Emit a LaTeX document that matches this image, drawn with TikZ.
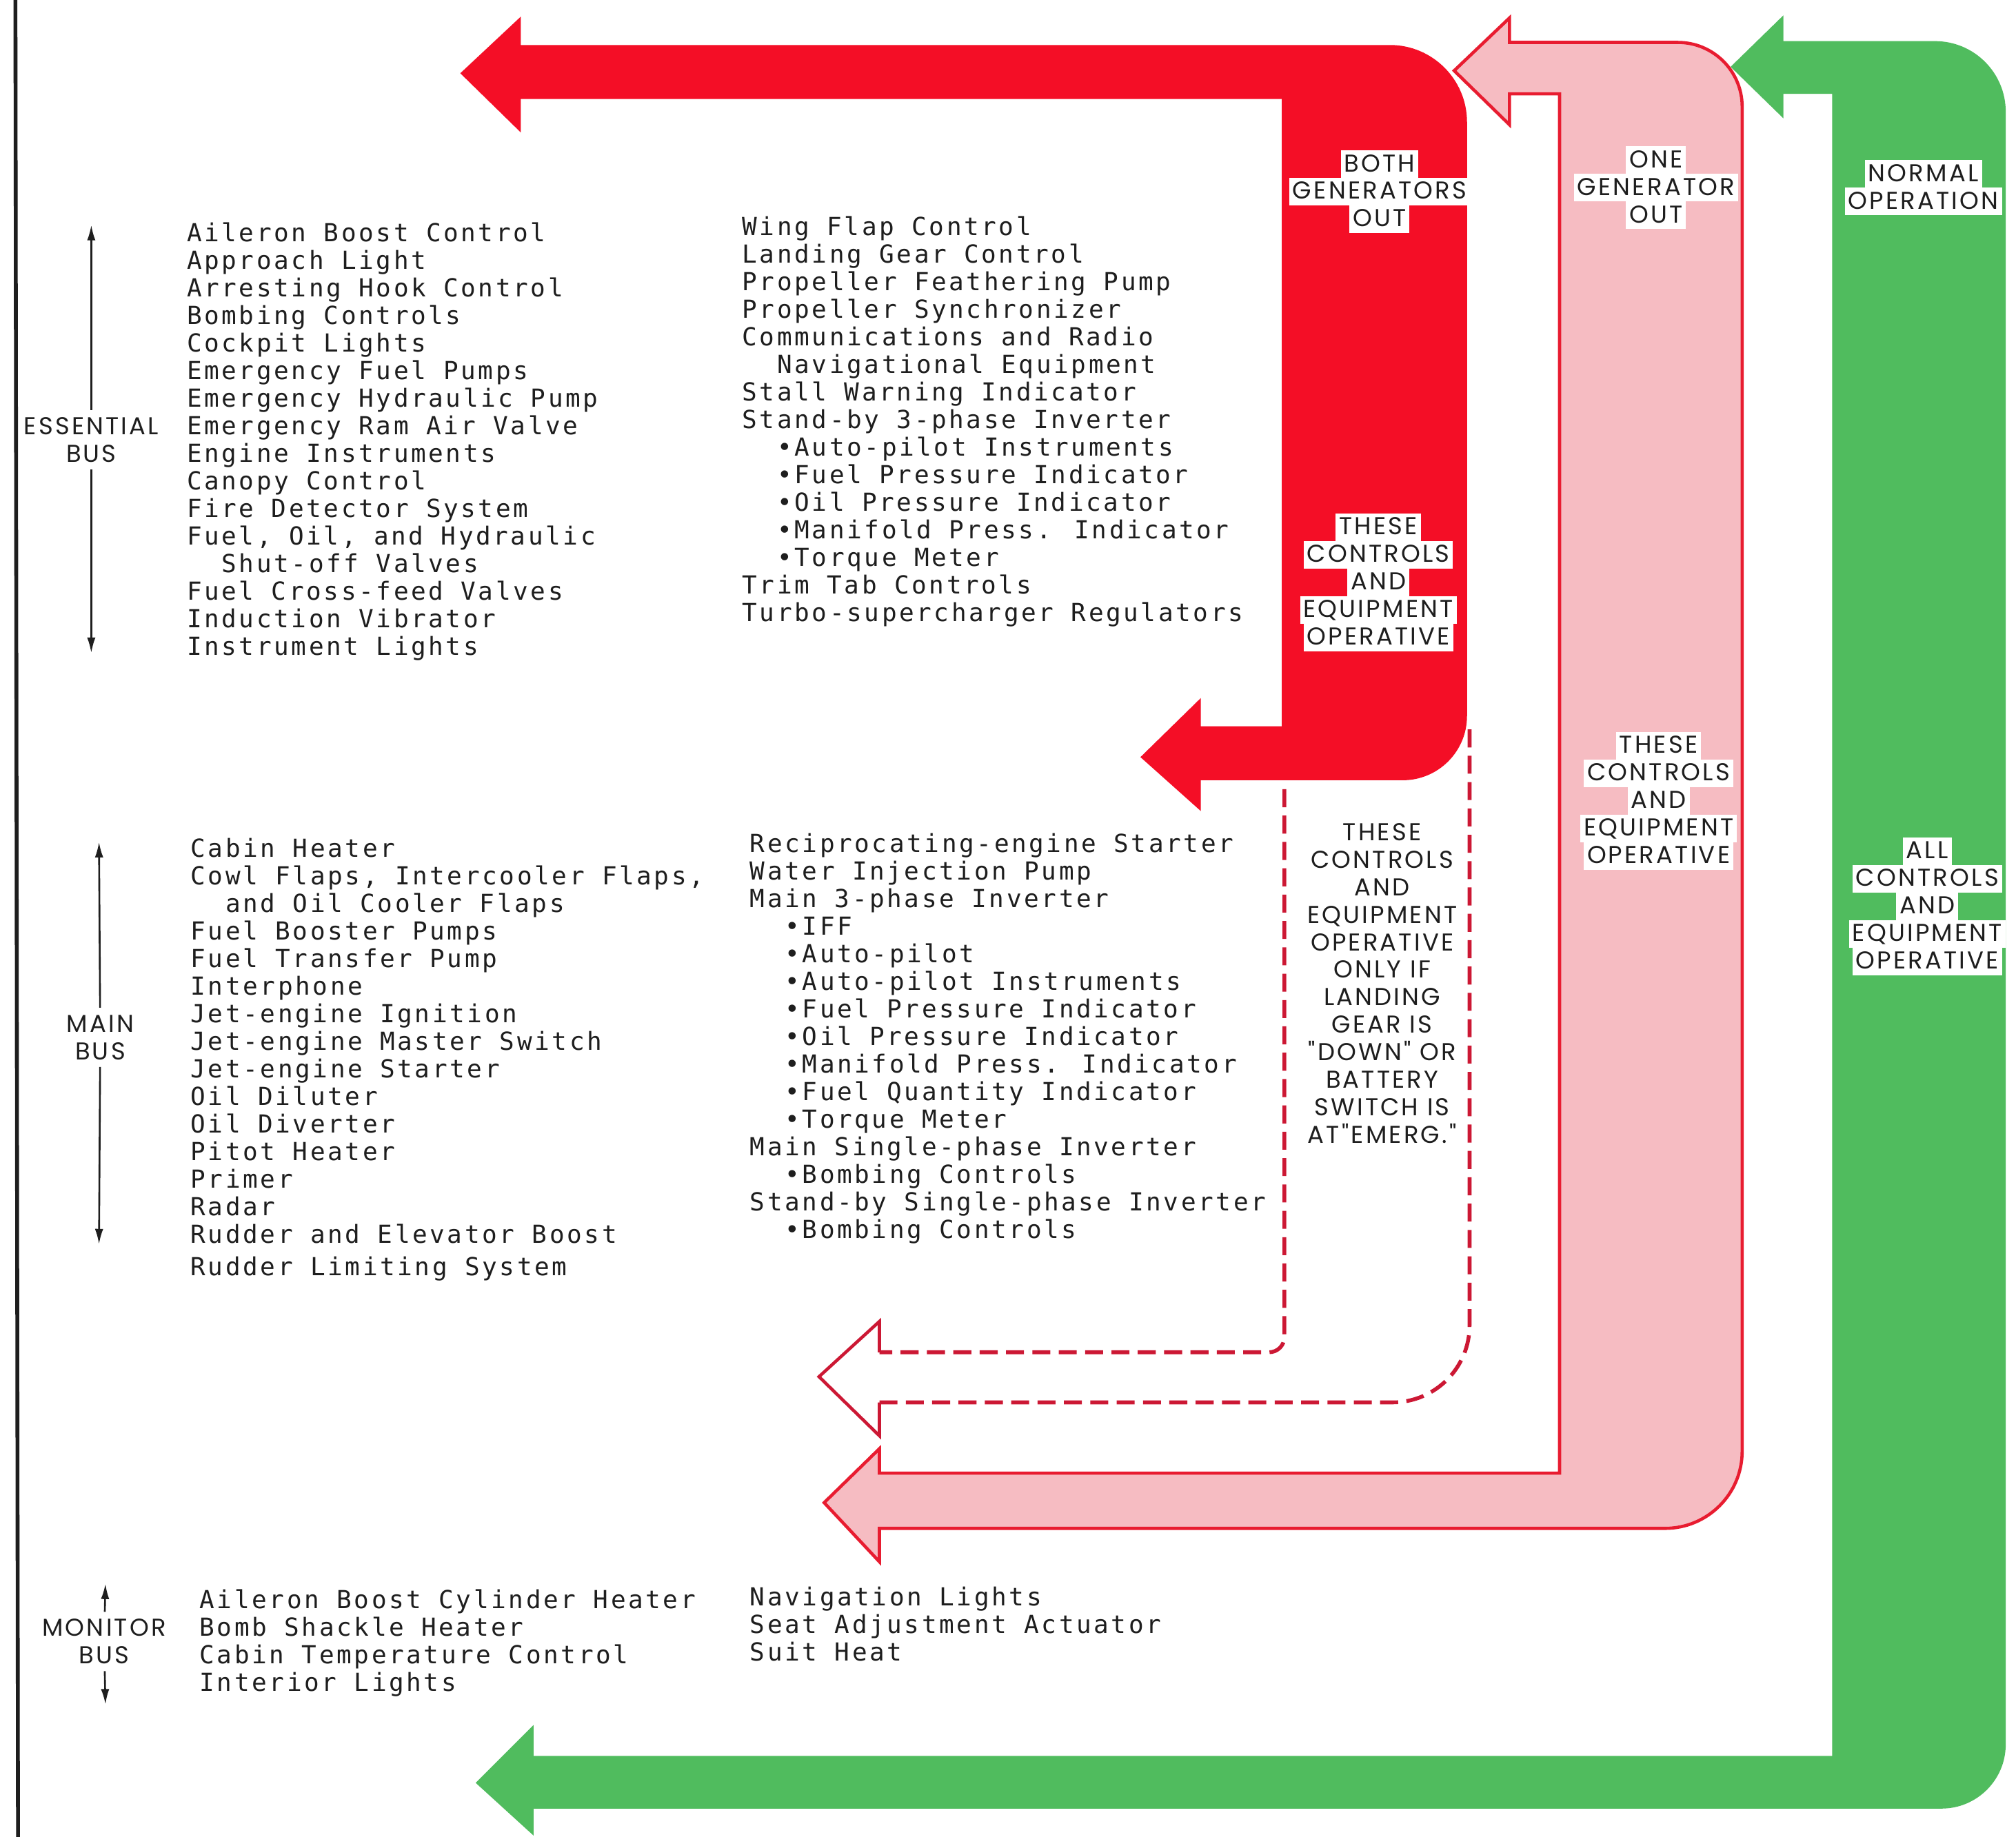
\documentclass[tikz,border=0pt]{standalone}
\usepackage{fontspec}
\usepackage{xcolor}
\usepackage{tikz}
\usetikzlibrary{arrows.meta}
\newfontfamily\itemfont[LetterSpace=10]{DejaVu Sans Mono}
\newfontfamily\lblfont[LetterSpace=9]{Poppins}
\definecolor{genred}{RGB}{244,14,38}
\definecolor{pinkfill}{RGB}{246,188,194}
\definecolor{pinkline}{RGB}{232,28,48}
\definecolor{opgreen}{RGB}{80,188,94}
\definecolor{dashred}{RGB}{204,24,52}
\definecolor{ink}{RGB}{30,30,30}
\setlength{\fboxsep}{0pt}
\newcommand\wl[1]{\colorbox{white}{\rule[-2.7pt]{0pt}{12.2pt}\hspace{1.5pt}#1\hspace{1.5pt}}}

\begin{document}
\begin{tikzpicture}[x=0.02cm, y=-0.02cm,
  item/.style={anchor=north west, inner sep=0pt, align=left, text=ink,
    font=\itemfont\fontsize{11}{12.2}\selectfont},
  lbl/.style={align=center, inner sep=0pt, text=ink,
    font=\lblfont\fontsize{10.8}{12.2}\selectfont},
  bus/.style={lbl, inner sep=3pt},
  busarr/.style={-{Latex[length=2.4mm, width=1.3mm]}, line width=0.8pt, ink},
  dashline/.style={dashred, line width=1.7pt, dash pattern=on 0.28cm off 0.13cm},
  headline/.style={dashred, line width=1.4pt}]
\path[fill=white, use as bounding box] (0,0) rectangle (1568,1429);
\draw[line width=0.06cm, ink] (12,0) -- (14,1429);

% both generators out
\fill[genred] (358,57) -- (405,13) -- (405,35) -- (1081,35) arc(-90:0:60) -- (1141,557) arc(0:90:50)
  -- (934,607) -- (934,631) -- (887,589) -- (934,543) -- (934,565) -- (997,565) -- (997,77)
  -- (405,77) -- (405,103) -- cycle;
\draw[dashline] (999,614) -- (999,1040) arc(0:90:12) -- (684,1052);
\draw[dashline] (684,1091) -- (1083,1091) arc(90:0:60) -- (1143,567);
\draw[headline] (684,1052) -- (684,1028) -- (637,1071) -- (684,1117) -- (684,1091);

% one generator out
\filldraw[fill=pinkfill, draw=pinkline, line width=1.4pt] (1131,55) -- (1174,14) -- (1174,33) -- (1305,33)
  arc(-90:0:50) -- (1355,1129) arc(0:90:60) -- (684,1189) -- (684,1215) -- (641,1169) -- (684,1127)
  -- (684,1146) -- (1213,1146) -- (1213,73) -- (1174,73) -- (1174,97) -- cycle;

% normal operation
\fill[opgreen] (1346,52) -- (1387,12) -- (1387,32) -- (1505,32) arc(-90:0:55) -- (1560,1357) arc(0:90:50)
  -- (415,1407) -- (415,1428) -- (370,1387) -- (415,1342) -- (415,1366) -- (1425,1366) -- (1425,73)
  -- (1387,73) -- (1387,92) -- cycle;

\node[lbl] (both) at (1073,149) {\wl{BOTH}\\\wl{GENERATORS}\\\wl{OUT}};
\node[lbl] (redops) at (1072,453) {\wl{THESE}\\\wl{CONTROLS}\\\wl{AND}\\\wl{EQUIPMENT}\\\wl{OPERATIVE}};
\node[lbl] (one) at (1288,146) {\wl{ONE}\\\wl{GENERATOR}\\\wl{OUT}};
\node[lbl] (pinkops) at (1290,623) {\wl{THESE}\\\wl{CONTROLS}\\\wl{AND}\\\wl{EQUIPMENT}\\\wl{OPERATIVE}};
\node[lbl] (normal) at (1496,146) {\wl{NORMAL}\\\wl{OPERATION}};
\node[lbl] (greenops) at (1499,705) {\wl{ALL}\\\wl{CONTROLS}\\\wl{AND}\\\wl{EQUIPMENT}\\\wl{OPERATIVE}};
\node[lbl] (onlyif) at (1075,765) {THESE\\CONTROLS\\AND\\EQUIPMENT\\OPERATIVE\\ONLY IF\\LANDING\\GEAR IS\\"DOWN" OR\\BATTERY\\SWITCH IS\\AT"EMERG."};

\node[bus] (essbus) at (71,342) {ESSENTIAL\\BUS};
\coordinate (esstop) at (71,175); \coordinate (essbot) at (71,508);
\draw[busarr] (essbus) -- (esstop); \draw[busarr] (essbus) -- (essbot);
\node[bus] (mainbus) at (78,807) {MAIN\\BUS};
\coordinate (maintop) at (77,655); \coordinate (mainbot) at (77,968);
\draw[busarr] (mainbus) -- (maintop); \draw[busarr] (mainbus) -- (mainbot);
\node[bus] (monbus) at (81,1277) {MONITOR\\BUS};
\coordinate (montop) at (82,1232); \coordinate (monbot) at (82,1326);
\draw[busarr] (monbus) -- (montop); \draw[busarr] (monbus) -- (monbot);

\node[item] (ess1) at (145,173) {Aileron Boost Control\\Approach Light\\Arresting Hook Control\\Bombing Controls\\Cockpit Lights\\Emergency Fuel Pumps\\Emergency Hydraulic Pump\\Emergency Ram Air Valve\\Engine Instruments\\Canopy Control\\Fire Detector System\\Fuel, Oil, and Hydraulic\\~~Shut-off Valves\\Fuel Cross-feed Valves\\Induction Vibrator\\Instrument Lights};
\node[item] (ess2) at (577,168) {Wing Flap Control\\Landing Gear Control\\Propeller Feathering Pump\\Propeller Synchronizer\\Communications and Radio\\~~Navigational Equipment\\Stall Warning Indicator\\Stand-by 3-phase Inverter\\~~•Auto-pilot Instruments\\~~•Fuel Pressure Indicator\\~~•Oil Pressure Indicator\\~~•Manifold Press. Indicator\\~~•Torque Meter\\Trim Tab Controls\\Turbo-supercharger Regulators};
\node[item] (main1) at (148,652) {Cabin Heater\\Cowl Flaps, Intercooler Flaps,\\~~and Oil Cooler Flaps\\Fuel Booster Pumps\\Fuel Transfer Pump\\Interphone\\Jet-engine Ignition\\Jet-engine Master Switch\\Jet-engine Starter\\Oil Diluter\\Oil Diverter\\Pitot Heater\\Primer\\Radar\\Rudder and Elevator Boost\\[2pt]Rudder Limiting System};
\node[item] (main2) at (583,648) {Reciprocating-engine Starter\\Water Injection Pump\\Main 3-phase Inverter\\~~•IFF\\~~•Auto-pilot\\~~•Auto-pilot Instruments\\~~•Fuel Pressure Indicator\\~~•Oil Pressure Indicator\\~~•Manifold Press. Indicator\\~~•Fuel Quantity Indicator\\~~•Torque Meter\\Main Single-phase Inverter\\~~•Bombing Controls\\Stand-by Single-phase Inverter\\~~•Bombing Controls};
\node[item] (mon1) at (155,1236) {Aileron Boost Cylinder Heater\\Bomb Shackle Heater\\Cabin Temperature Control\\Interior Lights};
\node[item] (mon2) at (583,1234) {Navigation Lights\\Seat Adjustment Actuator\\Suit Heat};
\end{tikzpicture}
\end{document}
